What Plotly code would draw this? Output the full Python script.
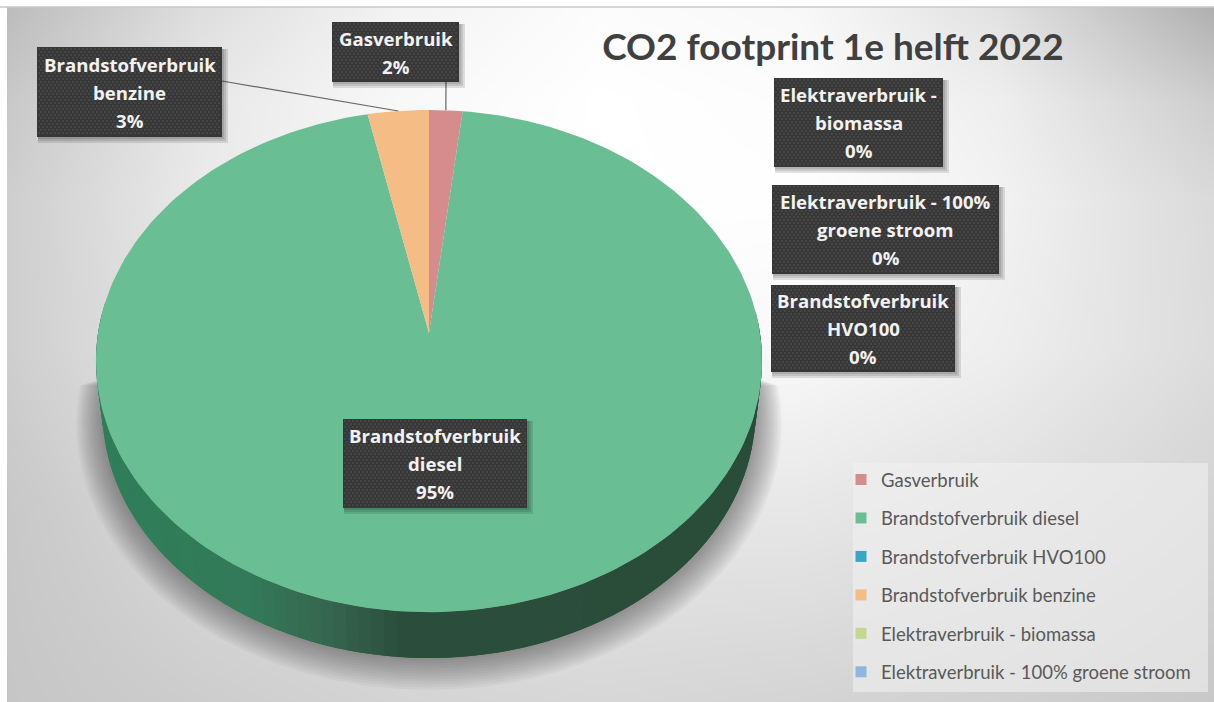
import numpy as np
import plotly.graph_objects as go

# chart data
categories = ["Gasverbruik", "Brandstofverbruik diesel", "Brandstofverbruik HVO100",
              "Brandstofverbruik benzine", "Elektraverbruik - biomassa",
              "Elektraverbruik - 100% groene stroom"]
values = [1.8, 94.9, 0, 3.3, 0, 0]
colors = ["#D68B8C", "#69BE94", "#3AA6C6", "#F6BC85", "#C5D88F", "#90B5DF"]

# label text is wrapped by hand like in the original
label_lines = [["Gasverbruik"], ["Brandstofverbruik", "diesel"], ["Brandstofverbruik", "HVO100"],
               ["Brandstofverbruik", "benzine"], ["Elektraverbruik -", "biomassa"],
               ["Elektraverbruik - 100%", "groene stroom"]]
# box of each label in pixels: left, top, right, bottom
label_boxes = [(332, 22, 459, 82), (343, 419, 527, 508), (771, 285, 955, 372),
               (37, 47, 222, 137), (774, 78, 943, 167), (772, 185, 999, 274)]

# background greys sampled on a coarse grid
bg_x = [7, 200, 400, 600, 800, 1000, 1214]
bg_y = [7, 100, 200, 350, 500, 702]
bg_grey = [[188, 222, 243, 252, 248, 225, 175],
           [200, 232, 248, 255, 252, 238, 205],
           [206, 234, 248, 255, 254, 242, 218],
           [206, 230, 243, 250, 248, 238, 220],
           [200, 218, 228, 232, 232, 225, 212],
           [198, 205, 212, 215, 212, 208, 200]]

# side wall colour going left to right
wall_x = [96, 250, 330, 400, 761]
wall_r = [47, 51, 54, 43, 42]
wall_g = [127, 122, 102, 79, 77]
wall_b = [90, 89, 79, 60, 58]

# pie geometry, tilted disc with a bit of perspective
CX, CY = 429, 333
A, B, K = 331, 248, 0.1116
SHRINK, DROP = 0.98, 58.2
LABEL_FONT = "Open Sans"
TEXT_FONT = "Lato"


def rim(theta):
    # theta clockwise from the top, radians
    d = 1 + K * np.cos(theta)
    return CX + A * np.sin(theta) / d, CY - B * np.cos(theta) / d


def under(x, y):
    # lower edge of the side wall for a point on the rim
    return CX + (x - CX) * SHRINK, y * SHRINK + DROP


def add_rect(x0, y0, x1, y1, color):
    fig.add_trace(go.Scatter(x=[x0, x1, x1, x0, x0], y=[y0, y0, y1, y1, y0], mode="lines", fill="toself",
                             line_width=0, fillcolor=color, showlegend=False, hoverinfo="skip"))


fig = go.Figure()

fig.add_trace(go.Heatmap(x=bg_x, y=bg_y, z=bg_grey, zmin=0, zmax=255, zsmooth="best",
                         colorscale=[[0, "#000000"], [1, "#ffffff"]], showscale=False,
                         hoverinfo="skip"))

# soft shadow under the disc, cut off flat at the top like the original
shadow_t = np.radians(np.linspace(88, 272, 200))
rx, ry = under(*rim(shadow_t))
for s in range(24, 0, -2):
    fig.add_trace(go.Scatter(x=CX + (rx - CX) * (1 + s / 300), y=ry + s * 0.5 + (ry - 412) * s / 300,
                             mode="lines", fill="toself", line_width=0,
                             fillcolor="rgba(40,40,40,0.045)", showlegend=False, hoverinfo="skip"))

# side wall, segments overlap so no seams show
wall_t = np.radians(np.linspace(85, 275, 96))
step = wall_t[1] - wall_t[0]
for t0 in wall_t[:-1]:
    seg = np.linspace(t0, t0 + 2 * step, 5)
    sx, sy = rim(seg)
    bx, by = under(sx, sy)
    mid = sx[:3].mean()
    col = "rgb(%d,%d,%d)" % (np.interp(mid, wall_x, wall_r), np.interp(mid, wall_x, wall_g),
                             np.interp(mid, wall_x, wall_b))
    fig.add_trace(go.Scatter(x=list(sx) + list(bx[::-1]), y=list(sy) + list(by[::-1]),
                             mode="lines", fill="toself", line_width=0,
                             fillcolor=col, showlegend=False, hoverinfo="skip"))

# top of the disc, one wedge per category
total = sum(values)
start = 0
mids = []
for name, val, col in zip(categories, values, colors):
    end = start + val
    t = np.linspace(start, end, 240) / total * 2 * np.pi
    mids.append((start + end) / 2 / total * 2 * np.pi)
    sx, sy = rim(t)
    fig.add_trace(go.Scatter(x=[CX] + list(sx) + [CX], y=[CY] + list(sy) + [CY], mode="lines",
                             fill="toself", line_width=0, fillcolor=col, name=name,
                             showlegend=False, hoverinfo="name"))
    start = end

# legend entries
for name, col in zip(categories, colors):
    fig.add_trace(go.Scatter(x=[None], y=[None], mode="markers", name=name, legendgroup=name,
                             marker=dict(symbol="square", size=11, color=col)))

shapes = [
    dict(type="rect", x0=853, y0=463, x1=1208, y1=692, line_width=0,
         fillcolor="rgba(240,240,240,0.6)", layer="above"),
    dict(type="rect", x0=0, y0=0, x1=7, y1=702, line_width=0, fillcolor="white", layer="above"),
    dict(type="rect", x0=0, y0=0, x1=1214, y1=7, line_width=0, fillcolor="white", layer="above"),
    dict(type="line", x0=0, y0=7, x1=1214, y1=7, line=dict(color="#c9c9c9", width=1.5), layer="above"),
]
annotations = []

# leader lines for the two small slices, they end on the slice rim
for i, (bx, by) in {0: (446, 82), 3: (222, 81)}.items():
    tx, ty = rim(mids[i])
    fig.add_trace(go.Scatter(x=[bx, tx], y=[by, ty], mode="lines", line=dict(color="#666666", width=1.2),
                             showlegend=False, hoverinfo="skip"))

dots_x, dots_y = [], []
for lines, val, (x0, y0, x1, y1) in zip(label_lines, values, label_boxes):
    for s in (6, 4, 2):
        add_rect(x0 + 1, y0 + 2, x1 + s, y1 + s, "rgba(0,0,0,0.11)")
    add_rect(x0, y0, x1, y1, "#383737")
    # the boxes have a fine dotted fill
    for n, yy in enumerate(np.arange(y0 + 2, y1 - 1, 3)):
        xx = np.arange(x0 + 2 + (n % 2) * 2, x1 - 1, 4)
        dots_x.extend(xx)
        dots_y.extend([yy] * len(xx))
    rows = lines + ["%.0f%%" % (val / total * 100)]
    xc = (x0 + x1) / 2
    yc = (y0 + y1) / 2
    for n, row in enumerate(rows):
        annotations.append(dict(x=xc, y=yc + (n - (len(rows) - 1) / 2) * 28, text="<b>%s</b>" % row,
                                showarrow=False, xanchor="center", yanchor="middle",
                                font=dict(family=LABEL_FONT, size=18.6, color="#F2F2F2")))

fig.add_trace(go.Scatter(x=dots_x, y=dots_y, mode="markers", showlegend=False, hoverinfo="skip",
                         marker=dict(size=1.6, color="rgba(255,255,255,0.16)", line_width=0)))

fig.update_layout(
    width=1214,
    height=702,
    margin=dict(l=0, r=0, t=0, b=0),
    paper_bgcolor="white",
    plot_bgcolor="white",
    title=dict(text="<b>CO2 footprint 1e helft 2022</b>", x=833 / 1214, y=1 - 47 / 702,
               xanchor="center", yanchor="middle",
               font=dict(family=TEXT_FONT, size=37, color="#404040")),
    xaxis=dict(range=[0, 1214], visible=False, fixedrange=True),
    yaxis=dict(range=[702, 0], visible=False, fixedrange=True),
    shapes=shapes,
    annotations=annotations,
    showlegend=True,
    legend=dict(x=841 / 1214, y=1 - 461 / 702, xanchor="left", yanchor="top", bgcolor="rgba(0,0,0,0)",
                tracegroupgap=11.4, traceorder="grouped",
                font=dict(family=TEXT_FONT, size=18.5, color="#595959")),
)

fig.write_html("out.html", config=dict(displayModeBar=False), post_script="document.body.style.margin='0';")
